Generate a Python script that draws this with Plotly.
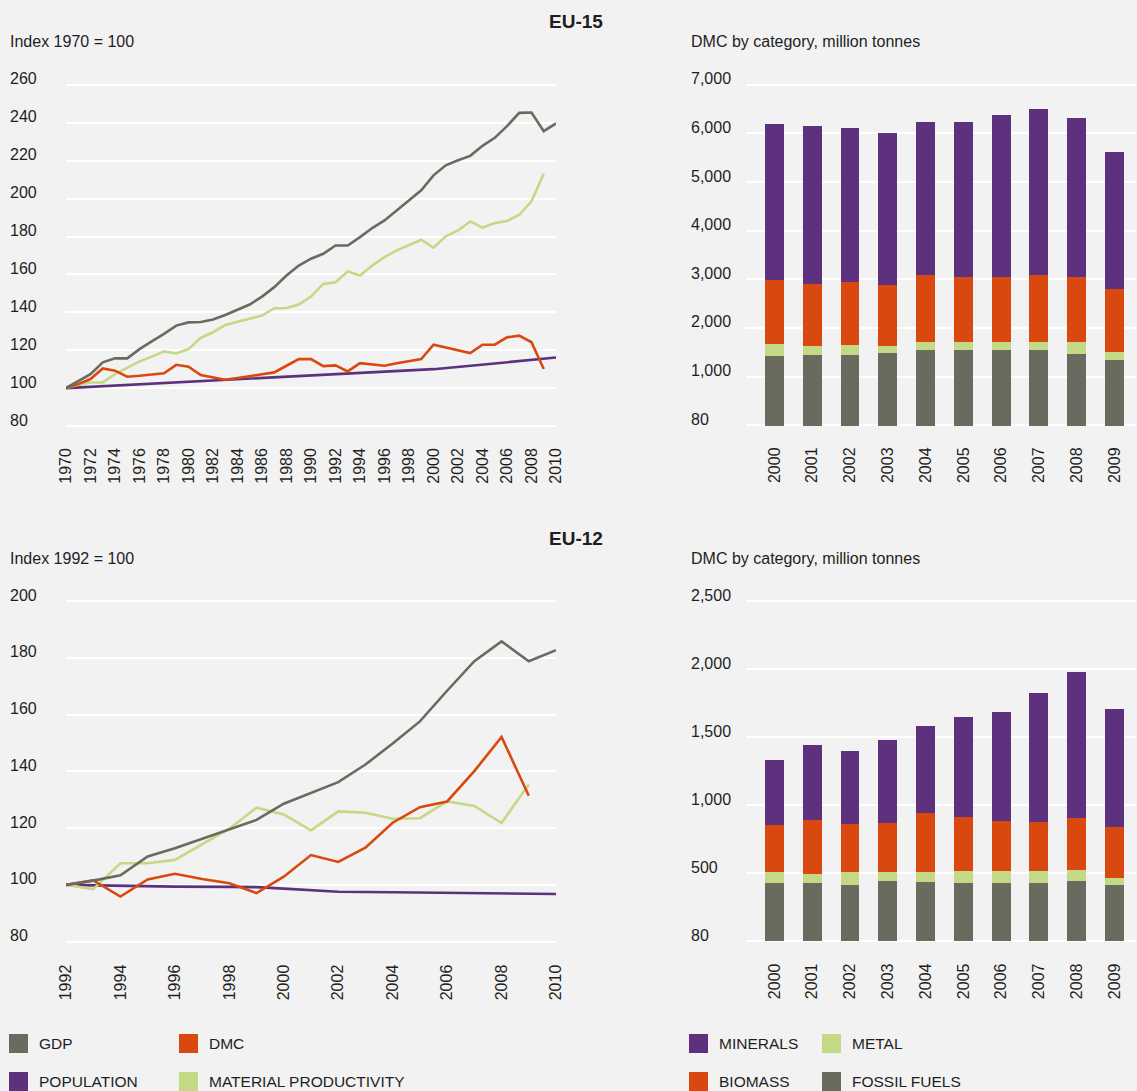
import plotly.graph_objects as go

# ---------------- data ----------------
# EU-15, index 1970 = 100
eu15_years = list(range(1970, 2011))
eu15_gdp = [100, 103.9, 107.4, 113.6, 115.7, 115.7, 120.6, 124.7, 128.6, 133.0,
            134.7, 134.9, 136.2, 138.6, 141.3, 144.1, 148.3, 153.3, 159.4, 164.7,
            168.3, 170.9, 175.3, 175.3, 179.7, 184.5, 188.5, 193.8, 199.1, 204.4,
            212.3, 217.6, 220.3, 222.6, 227.9, 232.1, 238.3, 245.3, 245.5, 235.6,
            239.7]
eu15_dmc_years = list(range(1970, 2010))
eu15_dmc = [100, 102.1, 104.8, 110.4, 109.2, 106.0, 106.5, 107.1, 107.8, 112.3,
            111.3, 106.9, 105.6, 104.4, 105.3, 106.2, 107.2, 108.3, 111.8, 115.3,
            115.3, 111.6, 112.0, 108.8, 113.2, 112.7, 111.8, 113.1, 114.3, 115.3,
            122.9, 121.5, 120.1, 118.5, 122.9, 122.9, 126.8, 127.7, 124.2, 110.1]
eu15_mp = [100, 101.8, 103.0, 103.0, 107.4, 110.9, 114.1, 116.6, 119.4, 118.3,
           120.6, 126.5, 129.5, 133.3, 135.1, 136.5, 138.3, 142.2, 142.3, 144.1,
           148.3, 155.0, 155.9, 161.6, 159.4, 164.7, 169.1, 172.7, 175.7, 178.3,
           174.1, 180.1, 183.2, 188.0, 184.7, 187.1, 188.2, 191.5, 198.6, 213.2]
eu15_pop_years = [1970, 1975, 1980, 1985, 1990, 1995, 2000, 2005, 2010]
eu15_pop = [100, 101.6, 103.2, 104.8, 106.5, 108.2, 110.0, 113.0, 116.2]

# EU-12, index 1992 = 100
eu12_years = list(range(1992, 2011))
eu12_gdp = [100, 101.5, 103.4, 110.0, 112.9, 116.2, 119.4, 122.9, 128.6, 132.4,
            136.2, 142.4, 149.8, 157.6, 168.4, 178.8, 185.8, 178.8, 182.7]
eu12_dmc_years = list(range(1992, 2010))
eu12_dmc = [100, 101.6, 95.9, 101.9, 103.9, 102.1, 100.6, 97.1, 102.9, 110.5,
            108.1, 113.1, 121.9, 127.4, 129.4, 140.1, 152.1, 131.4]
eu12_mp = [100, 98.5, 107.6, 107.6, 108.8, 114.2, 119.8, 127.2, 124.8, 119.2,
           125.9, 125.4, 123.3, 123.5, 129.4, 127.8, 121.8, 135.4]
eu12_pop_years = [1992, 1994, 1996, 1998, 1999, 2000, 2001, 2002, 2004, 2006, 2008, 2010]
eu12_pop = [100, 99.6, 99.4, 99.3, 99.2, 98.7, 98.2, 97.6, 97.4, 97.2, 97.0, 96.8]

# DMC by category, million tonnes
dmc_years = list(range(2000, 2010))
eu15_fossil = [1420, 1460, 1460, 1500, 1545, 1545, 1545, 1545, 1465, 1340]
eu15_metal = [250, 185, 205, 145, 165, 165, 165, 165, 245, 165]
eu15_biomass = [1330, 1270, 1290, 1250, 1375, 1335, 1335, 1375, 1335, 1310]
eu15_minerals = [3200, 3240, 3160, 3120, 3160, 3200, 3340, 3425, 3280, 2810]

eu12_fossil = [430, 430, 415, 445, 435, 430, 430, 430, 445, 415]
eu12_metal = [80, 65, 95, 65, 75, 87, 87, 87, 80, 51]
eu12_biomass = [345, 397, 353, 360, 434, 397, 368, 360, 382, 375]
eu12_minerals = [478, 552, 537, 610, 639, 736, 801, 949, 1073, 867]

# axis ticks
eu15_index_ticks = [80, 100, 120, 140, 160, 180, 200, 220, 240, 260]
eu12_index_ticks = [80, 100, 120, 140, 160, 180, 200]
eu15_dmc_ticks = [0, 1000, 2000, 3000, 4000, 5000, 6000, 7000]
eu15_dmc_labels = ["80", "1,000", "2,000", "3,000", "4,000", "5,000", "6,000", "7,000"]
eu12_dmc_ticks = [0, 500, 1000, 1500, 2000, 2500]
eu12_dmc_labels = ["80", "500", "1,000", "1,500", "2,000", "2,500"]
eu15_year_ticks = list(range(1970, 2011, 2))
eu12_year_ticks = list(range(1992, 2011, 2))

# ---------------- styling ----------------
W, H = 1137, 1091
BG = "#F2F2F2"
TXT = "#1e1e1e"
FONT = "Liberation Sans, Arial, sans-serif"
C_GDP = "#686B5D"
C_DMC = "#D9480F"
C_MP = "#C3D985"
C_POP = "#5E317E"


def px(xp):
    return xp / W


def py(yp):
    return 1 - yp / H


fig = go.Figure()

# ---- line charts ----
def add_lines(xa, ya, years, gdp, dmc_years, dmc, mp, pop_years, pop):
    common = dict(mode="lines", xaxis=xa, yaxis=ya, showlegend=False,
                  line_shape="linear")
    fig.add_trace(go.Scatter(x=pop_years, y=pop, name="POPULATION",
                             line=dict(color=C_POP, width=2.6), **common))
    fig.add_trace(go.Scatter(x=dmc_years, y=mp, name="MATERIAL PRODUCTIVITY",
                             line=dict(color=C_MP, width=2.6), **common))
    fig.add_trace(go.Scatter(x=dmc_years, y=dmc, name="DMC",
                             line=dict(color=C_DMC, width=2.6), **common))
    fig.add_trace(go.Scatter(x=years, y=gdp, name="GDP",
                             line=dict(color=C_GDP, width=2.6), **common))


add_lines("x", "y", eu15_years, eu15_gdp, eu15_dmc_years, eu15_dmc, eu15_mp,
          eu15_pop_years, eu15_pop)
add_lines("x3", "y3", eu12_years, eu12_gdp, eu12_dmc_years, eu12_dmc, eu12_mp,
          eu12_pop_years, eu12_pop)

# ---- stacked bars ----
def add_bars(xa, ya, fossil, metal, biomass, minerals):
    for name, vals, col in [("FOSSIL FUELS", fossil, C_GDP),
                            ("METAL", metal, C_MP),
                            ("BIOMASS", biomass, C_DMC),
                            ("MINERALS", minerals, C_POP)]:
        fig.add_trace(go.Bar(x=dmc_years, y=vals, name=name, width=0.5,
                             marker=dict(color=col, line=dict(width=0)),
                             xaxis=xa, yaxis=ya, showlegend=False))


add_bars("x2", "y2", eu15_fossil, eu15_metal, eu15_biomass, eu15_minerals)
add_bars("x4", "y4", eu12_fossil, eu12_metal, eu12_biomass, eu12_minerals)

# ---- axes ----
tickfont = dict(family=FONT, size=16, color=TXT)


def xaxis_cfg(dom, rng, tickvals, anchor):
    return dict(domain=[px(dom[0]), px(dom[1])], range=rng, anchor=anchor,
                showgrid=False, zeroline=False, showline=False, ticks="",
                tickmode="array", tickvals=tickvals,
                ticktext=[str(v) for v in tickvals], tickangle=-90,
                tickfont=tickfont, ticklabelstandoff=16, fixedrange=True,
                automargin=False)


def yaxis_cfg(dom, rng, tickvals, anchor):
    return dict(domain=[py(dom[1]), py(dom[0])], range=rng, anchor=anchor,
                showgrid=True, gridcolor="#FFFFFF", gridwidth=2.2,
                zeroline=False, showline=False, ticks="",
                tickmode="array", tickvals=tickvals, showticklabels=False,
                fixedrange=True, automargin=False)


fig.update_layout(
    xaxis=xaxis_cfg((66, 556), [1970, 2010], eu15_year_ticks, "y"),
    yaxis=yaxis_cfg((83.1, 427.9), [79, 261], eu15_index_ticks, "x"),
    xaxis2=xaxis_cfg((746, 1137), [1999.246, 2009.596], dmc_years, "y2"),
    yaxis2=yaxis_cfg((82.75, 427.25), [-40, 7040], eu15_dmc_ticks, "x2"),
    xaxis3=xaxis_cfg((66, 556), [1992, 2010], eu12_year_ticks, "y3"),
    yaxis3=yaxis_cfg((598.2, 944.5), [79, 201], eu12_index_ticks, "x3"),
    xaxis4=xaxis_cfg((746, 1137), [1999.246, 2009.596], dmc_years, "y4"),
    yaxis4=yaxis_cfg((599.26, 943.34), [-15, 2515], eu12_dmc_ticks, "x4"),
)

annotations = []
shapes = []

# y tick labels, left aligned above each gridline
def y_labels(yref, vals, texts, x_left):
    for v, t in zip(vals, texts):
        annotations.append(dict(x=px(x_left), xref="paper", xanchor="left",
                                y=v, yref=yref, yanchor="middle", yshift=6,
                                text=t, showarrow=False, font=tickfont))


y_labels("y", eu15_index_ticks, [str(v) for v in eu15_index_ticks], 8)
y_labels("y3", eu12_index_ticks, [str(v) for v in eu12_index_ticks], 8)
y_labels("y2", eu15_dmc_ticks, eu15_dmc_labels, 689)
y_labels("y4", eu12_dmc_ticks, eu12_dmc_labels, 689)


def text(xp, yp, s, size=16, bold=False, anchor="left"):
    annotations.append(dict(x=px(xp), y=py(yp), xref="paper", yref="paper",
                            xanchor=anchor, yanchor="middle", showarrow=False,
                            text=f"<b>{s}</b>" if bold else s,
                            font=dict(family=FONT, size=size, color=TXT)))


text(576, 22, "EU-15", size=19, bold=True, anchor="center")
text(576, 538, "EU-12", size=19, bold=True, anchor="center")
text(8, 42, "Index 1970 = 100")
text(689, 41, "DMC by category, million tonnes")
text(8, 558, "Index 1992 = 100")
text(689, 558, "DMC by category, million tonnes")

# legend: square swatches with labels
legend_items = [
    ("GDP", C_GDP, 9, 1043.5), ("DMC", C_DMC, 179, 1043.5),
    ("POPULATION", C_POP, 9, 1081.5), ("MATERIAL PRODUCTIVITY", C_MP, 179, 1081.5),
    ("MINERALS", C_POP, 689, 1043.5), ("METAL", C_MP, 822, 1043.5),
    ("BIOMASS", C_DMC, 689, 1081.5), ("FOSSIL FUELS", C_GDP, 822, 1081.5),
]
for label, col, x0, yc in legend_items:
    shapes.append(dict(type="rect", xref="paper", yref="paper",
                       x0=px(x0), x1=px(x0 + 19), y0=py(yc + 9.5), y1=py(yc - 9.5),
                       fillcolor=col, line=dict(width=0)))
    text(x0 + 28, yc, label, size=15.5)

fig.update_layout(
    width=W, height=H,
    margin=dict(l=0, r=0, t=0, b=0, autoexpand=False),
    paper_bgcolor=BG, plot_bgcolor=BG,
    barmode="stack", bargap=0,
    showlegend=False,
    font=dict(family=FONT, color=TXT),
    annotations=annotations, shapes=shapes,
)

fig.write_html("out.html")
